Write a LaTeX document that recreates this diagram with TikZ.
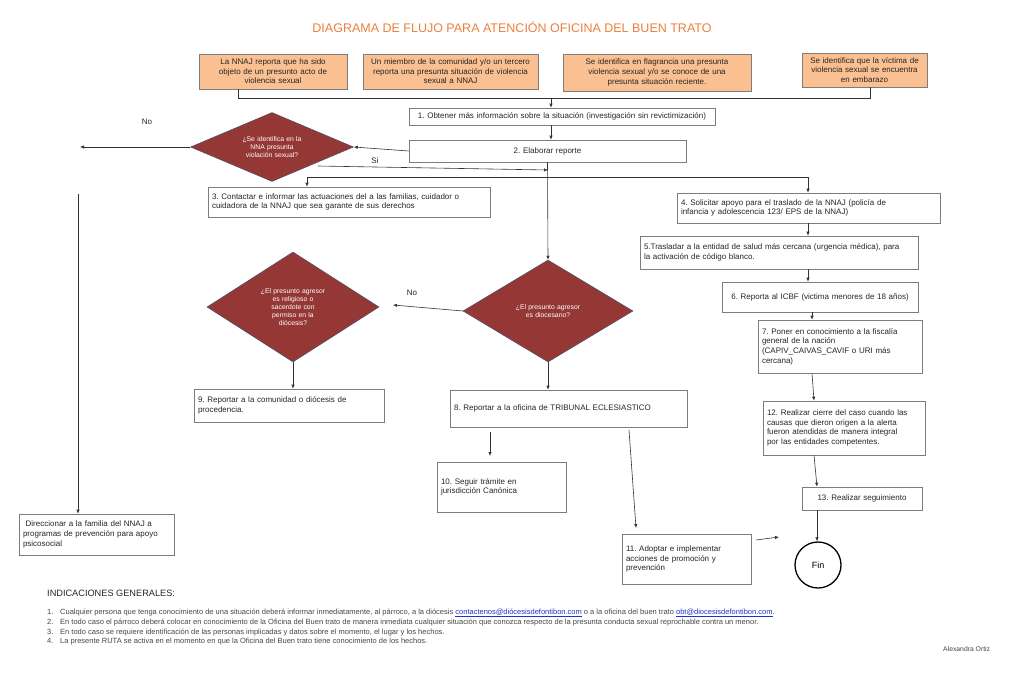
\documentclass[tikz,border=0pt]{standalone}
\usepackage{fontspec}
\setmainfont{Liberation Sans}
\usetikzlibrary{arrows.meta,shapes.geometric}
\definecolor{peach}{RGB}{250,192,145}
\definecolor{titleor}{RGB}{236,128,60}
\definecolor{diared}{RGB}{149,55,53}
\definecolor{diaedge}{RGB}{70,80,110}
\definecolor{boxgray}{RGB}{125,125,125}
\definecolor{linkblue}{RGB}{30,50,200}
\definecolor{notegray}{RGB}{70,70,70}
\frenchspacing
\hyphenpenalty=10000
\exhyphenpenalty=10000
\begin{document}
\begin{tikzpicture}[x=1pt,y=-1pt,
  box/.style={draw=boxgray, line width=0.6pt, fill=white, inner sep=4pt, text=black!85,
    font=\fontsize{8}{9.6}\selectfont},
  obox/.style={box, fill=peach},
  dia/.style={diamond, draw=diaedge, line width=0.5pt, fill=diared, inner sep=0pt, text=white,
    font=\fontsize{6.8}{7.8}\selectfont, align=center},
  arr/.style={-{Latex[length=4pt,width=3.4pt]}, line width=0.6pt, draw=black!80},
  ln/.style={line width=0.6pt, draw=black!80},
  lbl/.style={font=\fontsize{8}{9.6}\selectfont, text=black!85, inner sep=0pt},
  note/.style={font=\fontsize{7.5}{9}\selectfont, text=notegray, inner sep=0pt, anchor=base west}
]
\fill[white] (0,0) rectangle (1024,688);
\useasboundingbox (0,0) rectangle (1024,688);

% title
\node[font=\fontsize{12.5}{14}\selectfont, text=titleor, inner sep=0pt] (title) at (512,27)
  {DIAGRAMA DE FLUJO PARA ATENCIÓN OFICINA DEL BUEN TRATO};

% top boxes
\node[obox, minimum width=148pt, minimum height=35pt, text width=140pt, align=center] (t1) at (273,71.5)
  {La NNAJ reporta que ha sido\\objeto de un presunto acto de\\violencia sexual};
\node[obox, minimum width=175pt, minimum height=35pt, text width=167pt, align=center] (t2) at (450.5,71.5)
  {Un miembro de la comunidad y/o un tercero\\reporta una presunta situación de violencia\\sexual a NNAJ};
\node[obox, minimum width=188pt, minimum height=37pt, text width=180pt, align=center] (t3) at (657,72.5)
  {Se identifica en flagrancia una presunta\\violencia sexual y/o se conoce de una\\presunta situación reciente.};
\node[obox, minimum width=125pt, minimum height=34pt, text width=117pt, align=center] (t4) at (864.5,70)
  {Se identifica que la víctima de\\violencia sexual se encuentra\\en embarazo};

% main boxes
\node[box, minimum width=306pt, minimum height=17pt, text width=298pt, align=center] (b1) at (562,116.5)
  {1. Obtener más información sobre la situación (investigación sin revictimización)};
\node[box, minimum width=277pt, minimum height=22pt, text width=269pt, align=center] (b2) at (547.5,151)
  {2. Elaborar reporte};
\node[box, minimum width=282pt, minimum height=30pt, text width=274pt, align=left] (b3) at (349,202)
  {3. Contactar e informar las actuaciones del a las familias, cuidador o\\cuidadora de la NNAJ que sea garante de sus derechos};
\node[box, minimum width=263pt, minimum height=30pt, text width=255pt, align=left] (b4) at (808.5,208)
  {4. Solicitar apoyo para el traslado de la NNAJ (policía de\\infancia y adolescencia 123/ EPS de la NNAJ)};
\node[box, minimum width=278pt, minimum height=33pt, text width=270pt, align=left] (b5) at (779,252.5)
  {5.Trasladar a la entidad de salud más cercana (urgencia médica), para\\la activación de código blanco.};
\node[box, minimum width=196pt, minimum height=30pt, text width=188pt, align=center] (b6) at (820,297)
  {6. Reporta al ICBF (victima menores de 18 años)};
\node[box, minimum width=164pt, minimum height=53pt, text width=156pt, align=left] (b7) at (840,346.5)
  {7. Poner en conocimiento a la fiscalía\\general de la nación\\(CAPIV\_CAIVAS\_CAVIF o URI más\\cercana)};
\node[box, minimum width=162pt, minimum height=54pt, text width=154pt, align=left] (b12) at (844,428)
  {12. Realizar cierre del caso cuando las\\causas que dieron origen a la alerta\\fueron atendidas de manera integral\\por las entidades competentes.};
\node[box, minimum width=120pt, minimum height=23pt, text width=112pt, align=center] (b13) at (862,498.5)
  {13. Realizar seguimiento};
\node[box, minimum width=237pt, minimum height=37pt, text width=229pt, align=left] (b8) at (568.5,408.5)
  {8. Reportar a la oficina de TRIBUNAL ECLESIASTICO};
\node[box, minimum width=190pt, minimum height=33pt, text width=182pt, align=left] (b9) at (289,405.5)
  {9. Reportar a la comunidad o diócesis de\\procedencia.};
\node[box, minimum width=129pt, minimum height=50pt, text width=121pt, align=left] (b10) at (501.5,487)
  {10. Seguir trámite en\\jurisdicción Canónica};
\node[box, minimum width=129pt, minimum height=50pt, text width=121pt, align=left] (b11) at (686.5,559)
  {11. Adoptar e implementar\\acciones de promoción y\\prevención};
\node[box, minimum width=155pt, minimum height=41pt, text width=147pt, align=left] (bd) at (96.5,534.5)
  {\ Direccionar a la familia del NNAJ a\\programas de prevención para apoyo\\psicosocial};

% diamonds
\node[dia, minimum width=163pt, minimum height=69pt, aspect=2.36, text width=74pt] (d1) at (272,147)
  {¿Se identifica en la\\NNA presunta\\violación sexual?};
\node[dia, minimum width=170pt, minimum height=102pt, aspect=1.67, text width=74pt] (d2) at (548,311)
  {¿El presunto agresor\\es diocesano?};
\node[dia, minimum width=172pt, minimum height=110pt, aspect=1.57, text width=74pt] (d3) at (293,307)
  {¿El presunto agresor\\es religioso o\\sacerdote con\\permiso en la\\diócesis?};

% fin
\node[circle, draw=black, line width=1.3pt, minimum size=46pt, inner sep=0pt,
  font=\fontsize{9}{10}\selectfont] (fin) at (818,565) {Fin};

% coordinates
\coordinate (busL) at (238,98);
\coordinate (busR) at (870,98);
\coordinate (xA) at (551,98);
\coordinate (noL) at (80,147);
\coordinate (vtop) at (78,194);
\coordinate (siS) at (318,166);
\coordinate (siE) at (548,170);
\coordinate (h3) at (307,177);
\coordinate (h4) at (808,177);
\coordinate (d3e) at (393,305);
\coordinate (a10s) at (490,432);
\coordinate (a10e) at (490,456);
\coordinate (a11s) at (629,430);
\coordinate (a11e) at (636,528);
\coordinate (afs) at (756,540);
\coordinate (afe) at (779,537);
\coordinate (x7) at (812,0);
\coordinate (x12) at (814,0);
\coordinate (x13) at (817,0);

% connectors
\draw[ln] (busL |- t1.south) -- (busL) -- (busR) -- (busR |- t4.south);
\draw[arr] (xA) -- (xA |- b1.north);
\draw[arr] (xA |- b1.south) -- (xA |- b2.north);
\draw[arr] (b2.west) -- (d1.east);
\draw[arr] (d1.west) -- (noL);
\draw[arr] (vtop) -- (vtop |- bd.north);
\draw[arr] (siS) -- (siE);
\draw[arr] (b2.south) -- (d2.north);
\draw[arr] (h3) -- (h3 |- b3.north);
\draw[arr] (h3) -- (h4) -- (h4 |- b4.north);
\draw[arr] (b4.south -| h4) -- (h4 |- b5.north);
\draw[arr] (b5.south -| h4) -- (h4 |- b6.north);
\draw[arr] (b6.south -| x7) -- (x7 |- b7.north);
\draw[arr] (b7.south -| x7) -- (x12 |- b12.north);
\draw[arr] (b12.south -| x12) -- (x13 |- b13.north);
\draw[arr] (b13.south -| x13) -- (fin.north -| x13);
\draw[arr] (d2.west) -- (d3e);
\draw[arr] (d3.south) -- (d3.south |- b9.north);
\draw[arr] (d2.south) -- (d2.south |- b8.north);
\draw[arr] (a10s) -- (a10e);
\draw[arr] (a11s) -- (a11e);
\draw[arr] (afs) -- (afe);

% labels
\node[lbl] (no1) at (147,122) {No};
\node[lbl] (si1) at (375,161) {Si};
\node[lbl] (no2) at (412,293) {No};

% notes
\node[font=\fontsize{9.2}{11}\selectfont, text=black!85, inner sep=0pt, anchor=base west] (ind) at (47,596)
  {INDICACIONES GENERALES:};
\node[note] (n1) at (47,614) {1.};
\node[note] (n2) at (47,624) {2.};
\node[note] (n3) at (47,634) {3.};
\node[note] (n4) at (47,643) {4.};
\node[note] (l1) at (60,614) {Cualquier persona que tenga conocimiento de una situación deberá informar inmediatamente, al párroco, a la diócesis \textcolor{linkblue}{\underline{contactenos@diócesisdefontibon.com}} o a la oficina del buen trato \textcolor{linkblue}{\underline{obt@diocesisdefontibon.com}}.};
\node[note] (l2) at (60,624) {En todo caso el párroco deberá colocar en conocimiento de la Oficina del Buen trato de manera inmediata cualquier situación que conozca respecto de la presunta conducta sexual reprochable contra un menor.};
\node[note] (l3) at (60,634) {En todo caso se requiere identificación de las personas implicadas y datos sobre el momento, el lugar y los hechos.};
\node[note] (l4) at (60,643) {La presente RUTA se activa en el momento en que la Oficina del Buen trato tiene conocimiento de los hechos.};
\node[note, font=\fontsize{6.8}{8}\selectfont] (auth) at (943,651) {Alexandra Ortiz};
\end{tikzpicture}
\end{document}
